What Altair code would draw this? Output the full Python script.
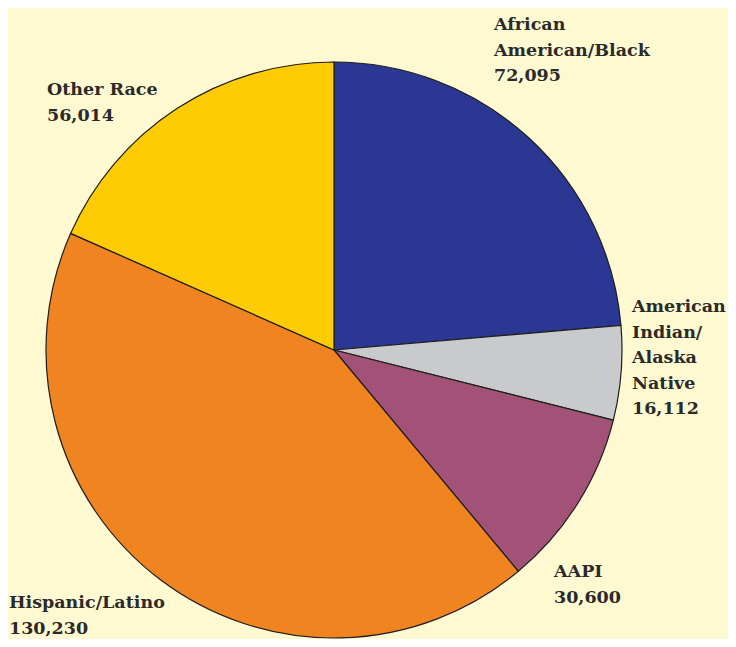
import altair as alt
import pandas as pd

categories = ["African American/Black", "American Indian/Alaska Native", "AAPI", "Hispanic/Latino", "Other Race"]
label_texts = ["African\nAmerican/Black", "American\nIndian/\nAlaska\nNative", "AAPI", "Hispanic/Latino", "Other Race"]
values = [72095, 16112, 30600, 130230, 56014]
colors = ["#2B3893", "#C9CACB", "#A35277", "#EF8421", "#FECB05"]

df = pd.DataFrame({
    "category": categories,
    "value": values,
    "order": list(range(len(categories))),
})
df["label"] = [f"{t}\n{v:,}" for t, v in zip(label_texts, values)]

base = alt.Chart(df)

pie = base.mark_arc(radius=288, stroke="#1e1e1e", strokeWidth=1.2).encode(
    theta=alt.Theta("value:Q", stack=True),
    color=alt.Color("category:N", scale=alt.Scale(domain=categories, range=colors), legend=None),
    order=alt.Order("order:Q"),
    x=alt.value(326),
    y=alt.value(342),
)

label_pos = {
    "African American/Black": (486, 22),
    "American Indian/Alaska Native": (624, 304),
    "AAPI": (546, 569),
    "Hispanic/Latino": (1, 600),
    "Other Race": (39, 87),
}

layers = [pie]
for cat in categories:
    px, py = label_pos[cat]
    layers.append(
        base.transform_filter(alt.datum.category == cat).mark_text(
            align="left", baseline="alphabetic", lineBreak="\n", lineHeight=25.5,
            font="DejaVu Serif", fontWeight="bold", fontSize=17.5, color="#2a2a2a",
            x=px, y=py,
        ).encode(text="label:N")
    )

chart = alt.layer(*layers).properties(
    width=720, height=631,
    background="#FEF9D0",
    autosize=alt.AutoSizeParams(type="fit", contains="padding"),
    padding=0,
).configure_view(stroke=None)

chart.save("out.html", embed_options={"renderer": "svg", "actions": False})
